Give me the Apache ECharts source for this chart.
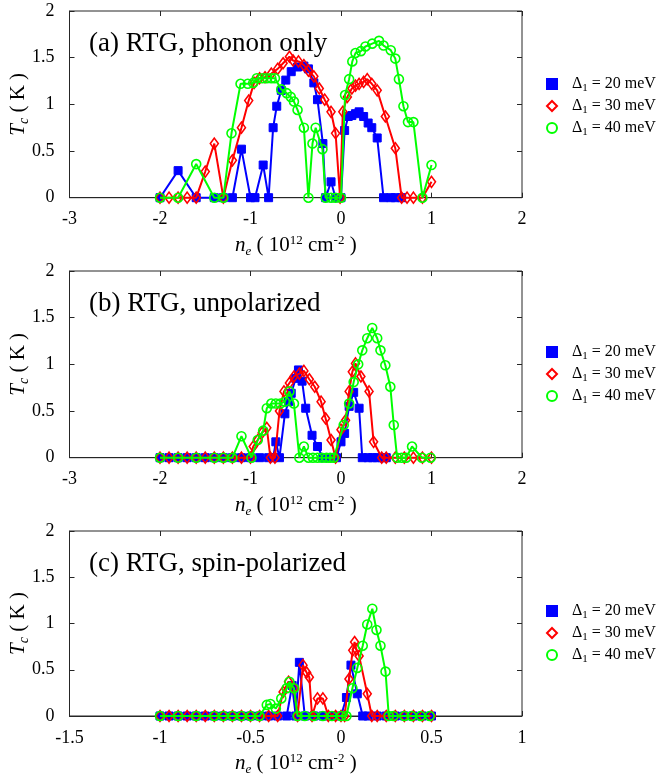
<!DOCTYPE html>
<html>
<head>
<meta charset="utf-8">
<script src="https://cdn.jsdelivr.net/npm/echarts@6/dist/echarts.min.js"></script>
<style>html,body{margin:0;padding:0;background:#fff;}#c{width:659px;height:777px;}</style>
</head>
<body>
<div id="c"></div>
<script>
// ---------- data ----------
const seriesNames = ['Δ1 = 20 meV', 'Δ1 = 30 meV', 'Δ1 = 40 meV'];
const panelTitles = ['(a) RTG, phonon only', '(b) RTG, unpolarized', '(c) RTG, spin-polarized'];
const yTicks = [0, 0.5, 1, 1.5, 2];

// panel (a)
const aNe20 = [-2.0,-1.8,-1.6,-1.4,-1.3,-1.2,-1.1,-1.0,-0.95,-0.86,-0.8,-0.75,-0.71,-0.66,-0.61,-0.55,-0.48,-0.41,-0.36,-0.3,-0.26,-0.2,-0.17,-0.11,-0.06,0.0,0.04,0.08,0.12,0.16,0.2,0.25,0.3,0.34,0.4,0.47,0.55,0.6,0.67];
const aTc20 = [0,0.29,0,0,0,0,0.52,0,0,0.35,0,0.75,0.98,1.15,1.26,1.35,1.40,1.41,1.38,1.23,1.05,0.58,0,0.17,0,0,0.72,0.87,0.88,0.90,0.92,0.87,0.80,0.75,0.64,0,0,0,0];
const aNe30 = [-2.0,-1.9,-1.8,-1.7,-1.6,-1.5,-1.4,-1.3,-1.2,-1.1,-1.02,-0.96,-0.9,-0.84,-0.77,-0.7,-0.64,-0.57,-0.53,-0.47,-0.41,-0.36,-0.3,-0.24,-0.18,-0.11,-0.06,-0.01,0.02,0.07,0.12,0.16,0.2,0.25,0.29,0.34,0.4,0.49,0.6,0.67,0.73,0.8,0.9,1.0];
const aTc30 = [0,0,0,0,0,0.28,0.58,0,0.40,0.75,1.04,1.23,1.28,1.29,1.33,1.38,1.44,1.51,1.47,1.46,1.42,1.36,1.30,1.17,1.05,0.92,0.69,0,0.92,1.08,1.17,1.20,1.22,1.24,1.27,1.22,1.15,0.87,0.53,0,0,0,0,0.17];
const aNe40 = [-2.0,-1.8,-1.6,-1.4,-1.3,-1.21,-1.11,-1.03,-0.97,-0.93,-0.87,-0.82,-0.77,-0.73,-0.66,-0.6,-0.555,-0.52,-0.48,-0.41,-0.36,-0.315,-0.28,-0.205,-0.17,-0.11,-0.06,0.0,0.045,0.09,0.125,0.16,0.22,0.27,0.345,0.42,0.47,0.55,0.6,0.64,0.69,0.74,0.8,0.9,1.0];
const aTc40 = [0,0,0.36,0,0,0.69,1.22,1.22,1.23,1.28,1.28,1.28,1.28,1.28,1.16,1.12,1.08,1.03,0.94,0.75,0,0.58,0.75,0.52,0,0,0,0,1.10,1.27,1.46,1.55,1.57,1.62,1.65,1.68,1.63,1.58,1.49,1.27,0.98,0.81,0.81,0,0.35];

// panel (b)
const bNe20 = [-2.0,-1.9,-1.8,-1.7,-1.6,-1.5,-1.4,-1.3,-1.2,-1.1,-1.0,-0.9,-0.8,-0.75,-0.72,-0.68,-0.62,-0.58,-0.55,-0.5,-0.47,-0.43,-0.39,-0.32,-0.26,-0.2,-0.15,-0.1,-0.05,0.0,0.04,0.09,0.14,0.2,0.235,0.3,0.35,0.4,0.45,0.5];
const bTc20 = [0,0,0,0,0,0,0,0,0,0,0,0,0,0,0.17,0,0.47,0.60,0.69,0.85,0.94,0.82,0.53,0.24,0.12,0,0,0,0,0.17,0.26,0.55,0.70,0.53,0,0,0,0,0,0];
const bNe30 = [-2.0,-1.9,-1.8,-1.7,-1.6,-1.5,-1.4,-1.3,-1.2,-1.1,-1.0,-0.97,-0.92,-0.87,-0.82,-0.78,-0.73,-0.68,-0.63,-0.57,-0.52,-0.46,-0.41,-0.35,-0.29,-0.22,-0.17,-0.11,-0.06,0.0,0.05,0.09,0.125,0.16,0.22,0.31,0.36,0.45,0.5,0.6,0.7,0.8,0.9,1.0];
const bTc30 = [0,0,0,0,0,0,0,0,0,0,0,0.12,0.19,0.27,0.32,0,0,0.50,0.71,0.80,0.87,0.90,0.93,0.84,0.76,0.60,0.42,0.19,0,0.30,0.40,0.71,0.92,1.01,0.87,0.71,0.17,0,0,0,0,0,0,0];
const bNe40 = [-2.0,-1.8,-1.6,-1.4,-1.3,-1.2,-1.1,-0.99,-0.92,-0.86,-0.82,-0.77,-0.72,-0.67,-0.62,-0.57,-0.52,-0.46,-0.41,-0.36,-0.31,-0.26,-0.21,-0.16,-0.12,-0.08,0.03,0.09,0.14,0.19,0.235,0.29,0.345,0.4,0.436,0.49,0.545,0.583,0.62,0.67,0.72,0.785,0.895,0.99];
const bTc40 = [0,0,0,0,0,0,0.23,0,0.19,0.29,0.53,0.58,0.58,0.58,0.60,0.71,0.58,0,0.12,0,0,0,0,0,0,0,0.35,0.58,0.81,1.00,1.15,1.28,1.39,1.28,1.15,0.99,0.76,0.35,0,0,0,0.12,0,0];

// panel (c)
const cNe20 = [-1.0,-0.95,-0.9,-0.85,-0.8,-0.75,-0.7,-0.65,-0.6,-0.55,-0.5,-0.45,-0.4,-0.35,-0.3,-0.27,-0.25,-0.23,-0.2,-0.15,-0.1,-0.05,0.0,0.03,0.055,0.09,0.12,0.15,0.2,0.25,0.3,0.35,0.4,0.45,0.5];
const cTc20 = [0,0,0,0,0,0,0,0,0,0,0,0,0,0,0,0.33,0,0.58,0,0,0,0,0,0.20,0.55,0.24,0,0,0,0,0,0,0,0,0];
const cNe30 = [-1.0,-0.95,-0.9,-0.85,-0.8,-0.75,-0.7,-0.65,-0.6,-0.55,-0.5,-0.45,-0.4,-0.35,-0.32,-0.29,-0.26,-0.24,-0.21,-0.19,-0.175,-0.16,-0.13,-0.1,-0.07,-0.03,0.0,0.02,0.044,0.065,0.075,0.085,0.1,0.145,0.17,0.2,0.25,0.3,0.35,0.4,0.45,0.5];
const cTc30 = [0,0,0,0,0,0,0,0,0,0,0,0,0,0,0.26,0.37,0.30,0,0.55,0.47,0.42,0,0.19,0.19,0,0,0,0,0.40,0.71,0.80,0.72,0.65,0.24,0,0,0,0,0,0,0,0];
const cNe40 = [-1.0,-0.9,-0.8,-0.7,-0.65,-0.6,-0.55,-0.5,-0.45,-0.41,-0.39,-0.36,-0.33,-0.3,-0.285,-0.26,-0.24,-0.2,-0.15,-0.1,-0.05,0.0,0.03,0.063,0.09,0.12,0.145,0.173,0.196,0.218,0.246,0.264,0.29,0.35,0.39,0.44,0.49];
const cTc40 = [0,0,0,0,0,0,0,0,0,0.12,0.13,0.08,0.19,0.30,0.37,0.30,0,0,0,0,0,0,0,0.30,0.52,0.76,0.99,1.16,0.93,0.76,0.48,0,0,0,0,0,0];

const panels = [
  {x:[aNe20,aNe30,aNe40], y:[aTc20,aTc30,aTc40], xmin:-3, xmax:2, xint:1},
  {x:[bNe20,bNe30,bNe40], y:[bTc20,bTc30,bTc40], xmin:-3, xmax:2, xint:1},
  {x:[cNe20,cNe30,cNe40], y:[cTc20,cTc30,cTc40], xmin:-1.5, xmax:1, xint:0.5}
];

// ---------- styling ----------
const FONT = '"Liberation Serif","Times New Roman",serif';
const AX = '#262626';
const gridTops = [11, 271, 531];
const legendTops = [71, 339, 598];
const GH = 186.7;
const colors = ['#0000ff', '#ff0000', '#00ff00'];
const symbols = ['rect', 'diamond', 'circle'];
const symSizes = [8, [8, 11], 9];
const legendIcons = ['rect', 'diamond', 'circle'];
const itemStyles = [
  {color: '#0000ff', borderColor: '#0000ff', borderWidth: 1},
  {color: 'rgba(0,0,0,0)', borderColor: '#ff0000', borderWidth: 1.6},
  {color: 'rgba(0,0,0,0)', borderColor: '#00ff00', borderWidth: 1.6}
];

const grids = [], xAxes = [], yAxes = [], series = [], titles = [], legends = [];
const tickLabelStyle = {fontFamily: FONT, fontSize: 18, color: '#000'};
const tickStyle = {show: true, inside: true, length: 5, lineStyle: {color: AX}};

panels.forEach((p, i) => {
  grids.push({left: 67, width: 455, top: gridTops[i], height: GH, containLabel: false,
              show: true, borderColor: AX, borderWidth: 1, backgroundColor: 'transparent'});
  xAxes.push({
    type: 'value', gridIndex: i, min: p.xmin, max: p.xmax, interval: p.xint, position: 'bottom',
    axisLine: {show: true, onZero: false, lineStyle: {color: AX, width: 1}},
    axisTick: tickStyle,
    axisLabel: Object.assign({margin: 13}, tickLabelStyle),
    splitLine: {show: false},
    name: '{i|n}{s|e}{n| ( 10}{sup|12}{n| cm}{sup|-2}{n| )}',
    nameLocation: 'middle', nameGap: 35, nameMoveOverlap: false,
    nameTextStyle: {
      fontFamily: FONT, color: '#000',
      rich: {
        i: {fontFamily: FONT, fontSize: 21, fontStyle: 'italic', color: '#000'},
        s: {fontFamily: FONT, fontSize: 13, fontStyle: 'italic', color: '#000', padding: [12, 0, 0, 0]},
        n: {fontFamily: FONT, fontSize: 21, color: '#000'},
        sup: {fontFamily: FONT, fontSize: 13, color: '#000', padding: [0, 0, 10, 0]}
      }
    }
  });
  yAxes.push({
    type: 'value', gridIndex: i, min: 0, max: 2, interval: 0.5, position: 'left',
    axisLine: {show: true, onZero: false, lineStyle: {color: AX, width: 1}},
    axisTick: tickStyle,
    axisLabel: Object.assign({margin: 15, formatter: v => String(v)}, tickLabelStyle),
    splitLine: {show: false},
    name: '{i|T}{s|c}{n| ( K )}',
    nameLocation: 'middle', nameGap: 38, nameRotate: 90, nameMoveOverlap: false,
    nameTextStyle: {
      fontFamily: FONT, color: '#000',
      rich: {
        i: {fontFamily: FONT, fontSize: 21, fontStyle: 'italic', color: '#000'},
        s: {fontFamily: FONT, fontSize: 14, fontStyle: 'italic', color: '#000', padding: [12, 0, 0, 0]},
        n: {fontFamily: FONT, fontSize: 21, color: '#000'}
      }
    }
  });
  titles.push({
    text: panelTitles[i], left: 84, top: gridTops[i] + 14,
    textStyle: {fontFamily: FONT, fontSize: 27, fontWeight: 'normal', color: '#000'}
  });
  legends.push({
    show: true, orient: 'vertical', left: 541, top: legendTops[i],
    itemWidth: 10, itemHeight: 10, itemGap: 4,
    selectedMode: false,
    data: seriesNames.map((n, k) => ({name: n, icon: legendIcons[k]})),
    formatter: name => '{d|Δ}{s|1}{t|' + name.slice(2) + '}',
    textStyle: {
      fontFamily: FONT, fontSize: 16, color: '#000',
      rich: {
        d: {fontFamily: FONT, fontSize: 16, color: '#000', padding: [0, 0, 0, 10]},
        s: {fontFamily: FONT, fontSize: 11, color: '#000', padding: [9, 0, 0, 0]},
        t: {fontFamily: FONT, fontSize: 16, color: '#000'}
      }
    }
  });
  for (let k = 0; k < 3; k++) {
    series.push({
      name: seriesNames[k], type: 'line', xAxisIndex: i, yAxisIndex: i,
      data: p.x[k].map((xv, j) => [xv, p.y[k][j]]),
      symbol: symbols[k], symbolSize: symSizes[k], showAllSymbol: true,
      lineStyle: {color: colors[k], width: 2},
      itemStyle: itemStyles[k],
      clip: false, z: 2 + k,
      emphasis: {disabled: true}
    });
  }
});
// mirror axes: ticks on top and right sides of each box
panels.forEach((p, i) => {
  xAxes.push({
    type: 'value', gridIndex: i, min: p.xmin, max: p.xmax, interval: p.xint, position: 'top',
    axisLine: {show: false, onZero: false},
    axisTick: tickStyle,
    axisLabel: {show: false}, splitLine: {show: false}
  });
  yAxes.push({
    type: 'value', gridIndex: i, min: 0, max: 2, interval: 0.5, position: 'right',
    axisLine: {show: false, onZero: false},
    axisTick: tickStyle,
    axisLabel: {show: false}, splitLine: {show: false}
  });
});

const chart = echarts.init(document.getElementById('c'), null, {renderer: 'canvas'});
chart.setOption({
  backgroundColor: '#fff',
  animation: false,
  title: titles,
  legend: legends,
  grid: grids,
  xAxis: xAxes,
  yAxis: yAxes,
  series: series
});
</script>
</body>
</html>
